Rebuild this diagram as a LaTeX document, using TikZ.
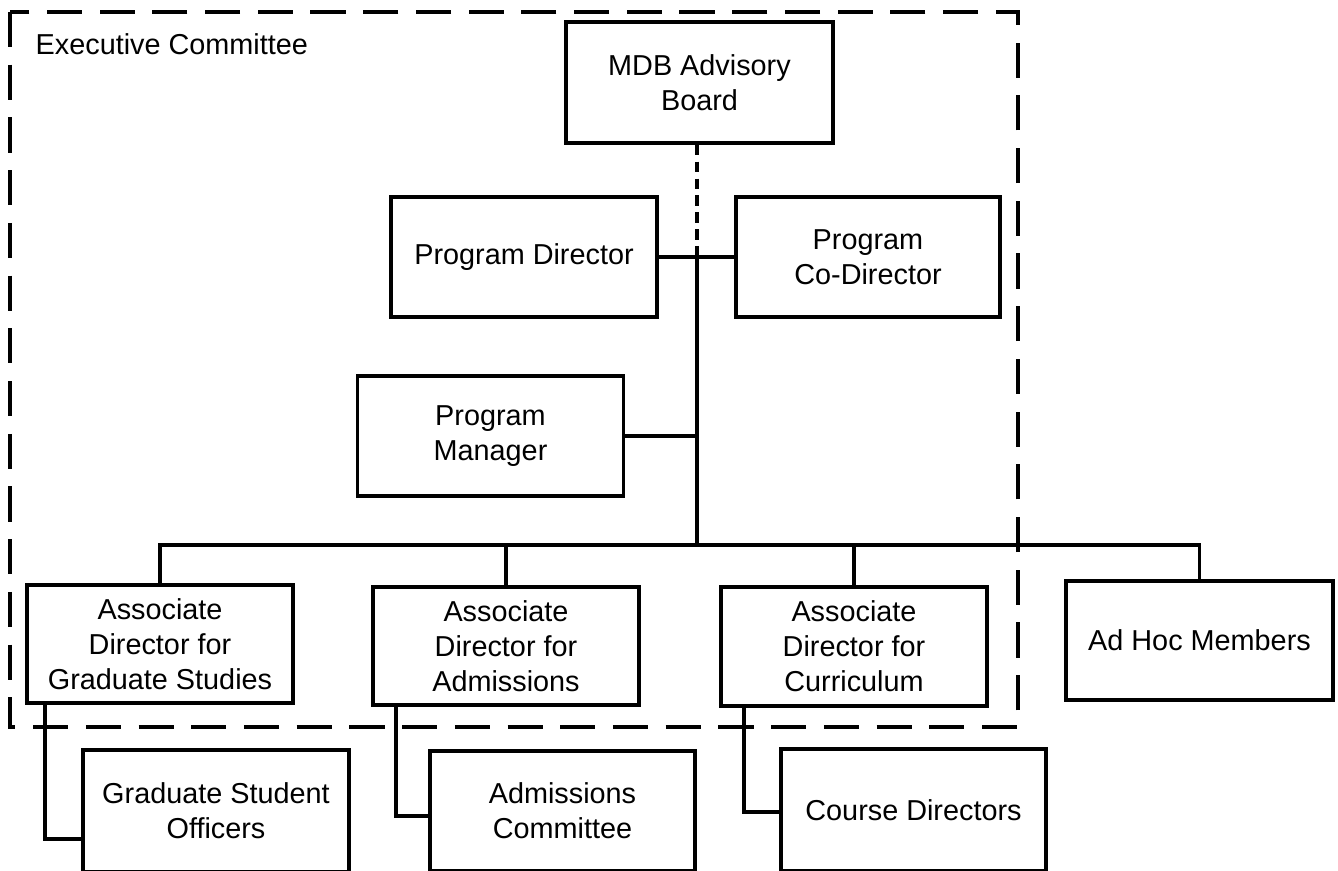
\documentclass[tikz,border=0pt]{standalone}
\usepackage{fontspec}
\setmainfont{Liberation Sans}
\tikzset{
  orgbox/.style={draw, line width=1pt, fill=white, minimum width=2.66cm, minimum height=1.2cm, align=center, inner sep=0pt, font=\fontsize{8.2pt}{10pt}\selectfont},
  link/.style={line width=1pt}
}
\begin{document}
\begin{tikzpicture}
\useasboundingbox (0, 0) rectangle (13.38, -8.71);

\draw [line width=1.25pt, dash pattern=on 10pt off 5pt] (0.1, -0.12) rectangle (10.18, -7.27);
\node (exec) at (0.35, -0.44) [anchor=west, inner sep=0pt, font=\fontsize{8.2pt}{10pt}\selectfont] {Executive Committee};

\node (board) at (6.995, -0.825) [orgbox, minimum width=2.67cm, minimum height=1.21cm] {MDB Advisory\\Board};
\node (pd) at (5.24, -2.57) [orgbox] {Program Director};
\node (pcd) at (8.68, -2.57) [orgbox, minimum width=2.64cm] {Program\\Co-Director};
\node (pm) at (4.905, -4.36) [orgbox] {Program\\Manager};
\node (gs) at (1.6, -6.44) [orgbox, minimum height=1.18cm] {Associate\\Director for\\Graduate Studies};
\node (adm) at (5.06, -6.46) [orgbox, minimum height=1.18cm] {Associate\\Director for\\Admissions};
\node (cur) at (8.54, -6.465) [orgbox, minimum height=1.19cm] {Associate\\Director for\\Curriculum};
\node (adhoc) at (11.995, -6.405) [orgbox, minimum width=2.67cm, minimum height=1.19cm] {Ad Hoc Members};
\node (gso) at (2.16, -8.11) [orgbox, minimum height=1.22cm] {Graduate Student\\Officers};
\node (admc) at (5.625, -8.11) [orgbox, minimum width=2.65cm, minimum height=1.2cm] {Admissions\\Committee};
\node (course) at (9.135, -8.1) [orgbox, minimum width=2.65cm, minimum height=1.22cm] {Course Directors};

\coordinate (jtop) at (6.97, -2.57);
\coordinate (jmid) at (6.97, -4.36);
\coordinate (jbus) at (6.97, -5.45);

\draw [link, dash pattern=on 3pt off 1.8pt] (board.south -| jtop) -- (jtop);
\draw [link] (pd.east) -- (pcd.west);
\draw [link] (jtop) -- (jbus);
\draw [link] (pm.east) -- (jmid);
\draw [link] (gs.north) -- (gs.north |- jbus) -| (adhoc.north);
\draw [link] (adm.north) -- (adm.north |- jbus);
\draw [link] (cur.north) -- (cur.north |- jbus);
\draw [link] ([xshift=2mm]gs.south west) |- ([yshift=-2.8mm]gso.west);
\draw [link] ([xshift=2.5mm]adm.south west) |- ([yshift=-0.5mm]admc.west);
\draw [link] ([xshift=2.5mm]cur.south west) |- ([yshift=-0.2mm]course.west);
\end{tikzpicture}
\end{document}
